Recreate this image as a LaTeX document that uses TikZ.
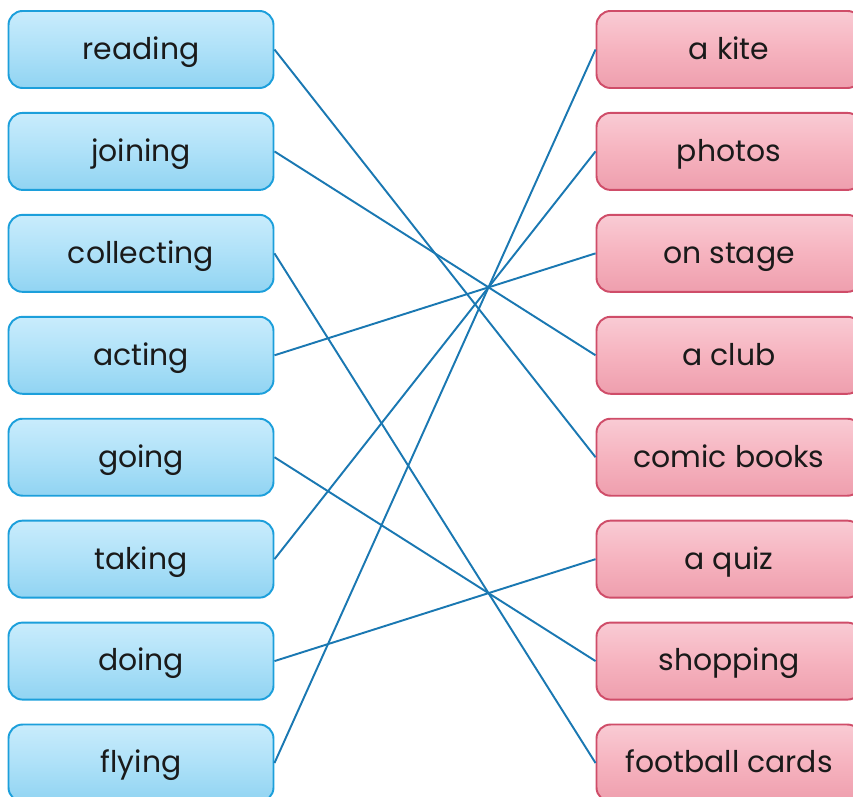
\documentclass[tikz,border=0pt]{standalone}
\usepackage{fontspec}
\setmainfont{Poppins}
\usetikzlibrary{positioning}
\definecolor{bluefill}{HTML}{AEE1F8}
\definecolor{bluetop}{HTML}{C9ECFC}
\definecolor{blueedge}{HTML}{1C9FDB}
\definecolor{pinkfill}{HTML}{F6B3BF}
\definecolor{pinktop}{HTML}{F9CBD4}
\definecolor{pinkedge}{HTML}{CF4D69}
\definecolor{linkcol}{HTML}{1A78B2}
\definecolor{textcol}{HTML}{1A1A1A}
\tikzset{
    every node/.style={font=\fontsize{17}{19}\selectfont, text=textcol},
    word/.style={
        rectangle, rounded corners=8pt, line width=1.1pt,
        minimum width=5.3cm, minimum height=1.54cm, align=center,
        text height=2.5ex, text depth=0.45ex,
    },
    verb/.style={word, draw=blueedge, top color=bluetop, bottom color=bluefill!80!blueedge,
        middle color=bluefill},
    thing/.style={word, draw=pinkedge, top color=pinktop, bottom color=pinkfill!80!pinkedge,
        middle color=pinkfill},
    link/.style={linkcol, line width=1.1pt},
}
\begin{document}
\begin{tikzpicture}[node distance=0.46cm]
\useasboundingbox (0,0) rectangle (17.06,15.94);

% left column
\node[verb] at (2.82,14.95) (reading) {reading};
\node[verb, below=of reading] (joining) {joining};
\node[verb, below=of joining] (collecting) {collecting};
\node[verb, below=of collecting] (acting) {acting};
\node[verb, below=of acting] (going) {going};
\node[verb, below=of going] (taking) {taking};
\node[verb, below=of taking] (doing) {doing};
\node[verb, below=of doing] (flying) {flying};

% right column
\node[thing] at (14.58,14.95) (kite) {a kite};
\node[thing, below=of kite] (photos) {photos};
\node[thing, below=of photos] (stage) {on stage};
\node[thing, below=of stage] (club) {a club};
\node[thing, below=of club] (comics) {comic books};
\node[thing, below=of comics] (quiz) {a quiz};
\node[thing, below=of quiz] (shopping) {shopping};
\node[thing, below=of shopping] (cards) {football cards};

% matches
\draw[link] (reading.east) -- (comics.west);
\draw[link] (joining.east) -- (club.west);
\draw[link] (collecting.east) -- (cards.west);
\draw[link] (acting.east) -- (stage.west);
\draw[link] (going.east) -- (shopping.west);
\draw[link] (taking.east) -- (photos.west);
\draw[link] (doing.east) -- (quiz.west);
\draw[link] (flying.east) -- (kite.west);

\end{tikzpicture}
\end{document}
